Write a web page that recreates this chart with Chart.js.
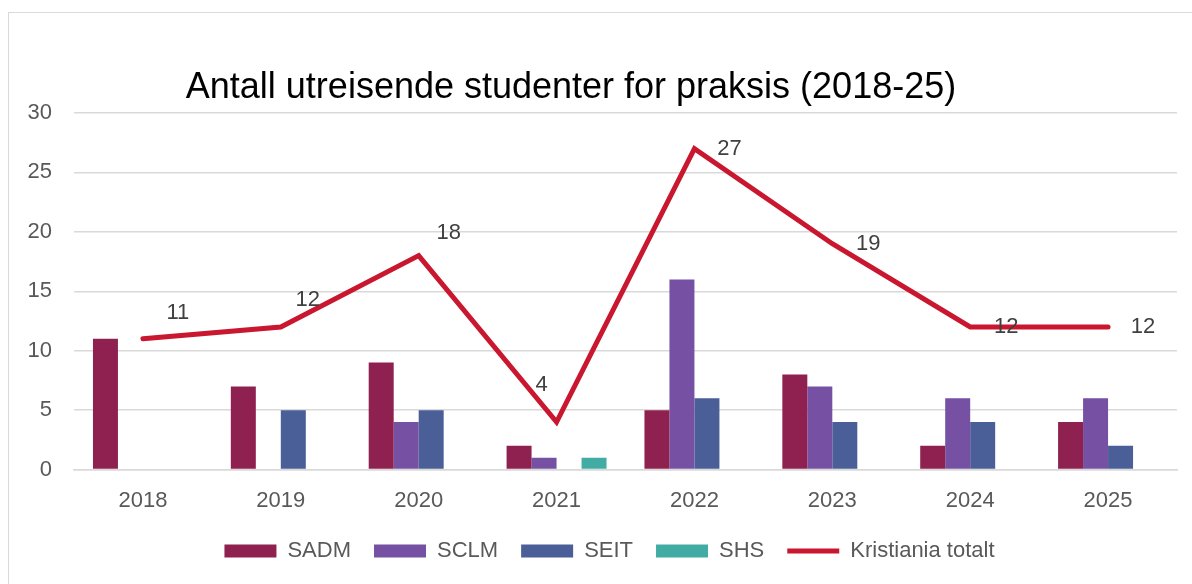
<!DOCTYPE html>
<html lang="no">
<head>
  <meta charset="UTF-8" />
  <title>Antall utreisende studenter for praksis (2018-25)</title>
  <script src="https://cdn.jsdelivr.net/npm/chart.js"></script>
  <style>
    html, body {
      margin: 0;
      padding: 0;
      background: #ffffff;
      overflow: hidden;
    }
    .frame {
      position: absolute;
      left: 8px;
      top: 12px;
      width: 1300px;
      height: 700px;
      border-left: 1.5px solid #d9d9d9;
      border-top: 1.5px solid #d9d9d9;
    }
    .wrap {
      position: absolute;
      left: 0;
      top: 0;
      width: 1192px;
      height: 584px;
    }
  </style>
</head>
<body>
  <div class="frame"></div>
  <div class="wrap">
    <canvas id="myChart"></canvas>
  </div>

  <script>
    // data
    const years = ['2018', '2019', '2020', '2021', '2022', '2023', '2024', '2025'];
    const sadm = [11, 7, 9, 2, 5, 8, 2, 4];
    const sclm = [0, 0, 4, 1, 16, 7, 6, 6];
    const seit = [0, 5, 5, 0, 6, 4, 4, 2];
    const shs = [0, 0, 0, 1, 0, 0, 0, 0];
    const totalt = [11, 12, 18, 4, 27, 19, 12, 12];
    const yTicks = [0, 5, 10, 15, 20, 25, 30];

    const chartTitle = 'Antall utreisende studenter for praksis (2018-25)';
    const FONT = "'Liberation Sans', Arial, sans-serif";

    // where each total label sits relative to its point (dx, dy)
    const labelOffsets = [[35, -26], [27, -27], [30, -23], [-15, -37], [35, 0], [36, 0], [36, 0], [35, 0]];

    const titlePlugin = {
      id: 'excelTitle',
      afterDraw(chart) {
        const ctx = chart.ctx;
        ctx.save();
        ctx.font = '36px ' + FONT;
        ctx.fillStyle = '#000000';
        ctx.textAlign = 'center';
        ctx.textBaseline = 'middle';
        ctx.fillText(chartTitle, chart.width / 2 - 25, 88);
        ctx.restore();
      }
    };

    // nudge the legend a little to the right, like the original
    const legendShift = {
      id: 'legendShift',
      afterLayout(chart) {
        if (chart.legend) {
          chart.legend.left += 11;
          chart.legend.right += 11;
        }
      }
    };

    const totalLabels = {
      id: 'totalLabels',
      afterDatasetsDraw(chart) {
        const meta = chart.getDatasetMeta(4);
        const ctx = chart.ctx;
        ctx.save();
        ctx.font = '22px ' + FONT;
        ctx.fillStyle = '#404040';
        ctx.textAlign = 'center';
        ctx.textBaseline = 'middle';
        meta.data.forEach((pt, i) => {
          const off = labelOffsets[i];
          ctx.fillText(String(totalt[i]), pt.x + off[0], pt.y + off[1]);
        });
        ctx.restore();
      }
    };

    const ctx = document.getElementById('myChart').getContext('2d');
    const myChart = new Chart(ctx, {
      type: 'bar',
      data: {
        labels: years,
        datasets: [
          { label: 'SADM', data: sadm, backgroundColor: '#8F2150', pointStyle: 'rect', order: 1 },
          { label: 'SCLM', data: sclm, backgroundColor: '#7651A3', pointStyle: 'rect', order: 1 },
          { label: 'SEIT', data: seit, backgroundColor: '#4A5E97', pointStyle: 'rect', order: 1 },
          { label: 'SHS', data: shs, backgroundColor: '#42ACA4', pointStyle: 'rect', order: 1 },
          {
            type: 'line',
            label: 'Kristiania totalt',
            data: totalt,
            borderColor: '#C9172F',
            backgroundColor: '#C9172F',
            borderWidth: 5,
            borderJoinStyle: 'miter',
            borderCapStyle: 'round',
            pointRadius: 0,
            pointHoverRadius: 0,
            pointStyle: 'line',
            tension: 0,
            order: 0
          }
        ]
      },
      options: {
        responsive: true,
        maintainAspectRatio: false,
        animation: false,
        layout: {
          padding: { top: 113, right: 15, bottom: 12, left: 20 }
        },
        datasets: {
          bar: {
            categoryPercentage: 0.725,
            barPercentage: 1.0,
            borderWidth: 0
          }
        },
        plugins: {
          title: { display: false },
          tooltip: { enabled: false },
          legend: {
            display: true,
            position: 'bottom',
            labels: {
              usePointStyle: true,
              pointStyleWidth: 52,
              boxHeight: 13,
              padding: 23,
              color: '#595959',
              font: { family: FONT, size: 22 },
              sort: (a, b) => a.datasetIndex - b.datasetIndex
            }
          }
        },
        scales: {
          x: {
            afterFit(scale) { scale.height -= 15; },
            grid: { display: false, drawTicks: false },
            border: { display: true, color: '#d9d9d9', width: 1.5 },
            ticks: {
              color: '#595959',
              padding: 18,
              font: { family: FONT, size: 22 }
            }
          },
          y: {
            min: 0,
            max: 30,
            afterFit(scale) { scale.width = 54; },
            afterBuildTicks(scale) { scale.ticks = yTicks.map(v => ({ value: v })); },
            grid: { color: '#d9d9d9', lineWidth: 1.5, drawTicks: false },
            border: { display: false },
            ticks: {
              color: '#595959',
              padding: 22,
              font: { family: FONT, size: 22 }
            }
          }
        }
      },
      plugins: [titlePlugin, totalLabels, legendShift]
    });
  </script>
</body>
</html>
